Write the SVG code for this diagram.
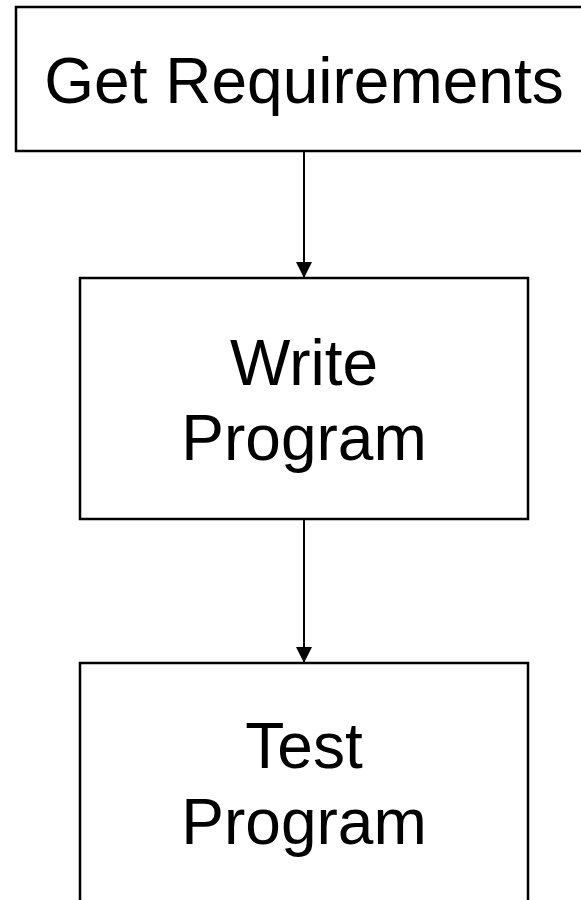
<svg xmlns="http://www.w3.org/2000/svg" width="581" height="900" viewBox="0 0 581 900">
<style>
.box{fill:#fff;stroke:#000;stroke-width:2.5}
.lbl{font-family:"Liberation Sans",Arial,sans-serif;font-size:64px;fill:#000;text-anchor:middle}
.conn{stroke:#000;stroke-width:2;fill:none}
</style>
<defs>
<marker id="ah" markerUnits="userSpaceOnUse" markerWidth="16" markerHeight="16" refX="16" refY="8" orient="auto">
<path d="M0,0 L16,8 L0,16 Z" fill="#000"/>
</marker>
</defs>
<g id="n1">
<rect class="box" x="16" y="7" width="600" height="144"/>
<text class="lbl" x="304" y="103">Get Requirements</text>
</g>
<g id="n2">
<rect class="box" x="80" y="278" width="448" height="241"/>
<text class="lbl" x="304" y="385">Write</text>
<text class="lbl" x="304" y="460">Program</text>
</g>
<g id="n3">
<rect class="box" x="80" y="663" width="448" height="300"/>
<text class="lbl" x="304" y="768">Test</text>
<text class="lbl" x="304" y="844">Program</text>
</g>
<g id="connectors">
<line class="conn" x1="304" y1="151" x2="304" y2="278" marker-end="url(#ah)"/>
<line class="conn" x1="304" y1="519" x2="304" y2="663" marker-end="url(#ah)"/>
</g>
</svg>
